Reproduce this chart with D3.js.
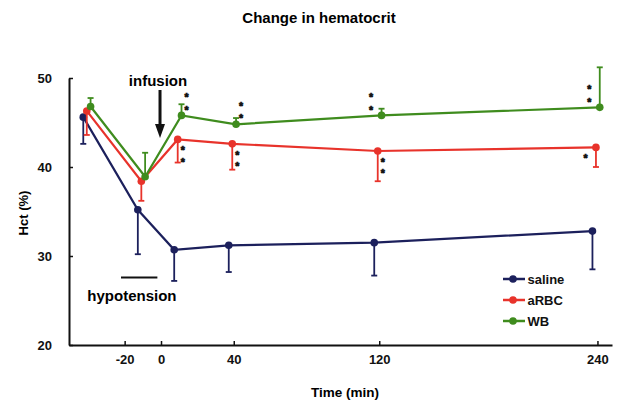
<!DOCTYPE html>
<html>
<head>
<meta charset="utf-8">
<script src="https://cdn.jsdelivr.net/npm/d3@7"></script>
<style>
  body { margin: 0; background: #fff; }
  svg { display: block; font-family: "Liberation Sans", Arial, sans-serif; font-weight: bold; }
</style>
</head>
<body>
<svg id="chart" width="625" height="402"></svg>
<script>
// ---- data ----
const times    = [-40, -10, 10, 40, 120, 240];
const saline   = [45.6, 35.2, 30.7, 31.2, 31.5, 32.8];
const salineSd = [3.0, 5.0, 3.5, 3.0, 3.7, 4.3];
const aRBC     = [46.3, 38.4, 43.1, 42.6, 41.8, 42.2];
const aRBCSd   = [2.7, 2.2, 2.6, 2.9, 3.4, 2.2];
const WB       = [46.8, 38.9, 45.8, 44.8, 45.8, 46.7];
const WBSd     = [0.95, 2.7, 1.25, 0.7, 0.75, 4.5];

const xTicks = [-20, 0, 40, 120, 240];
const yTicks = [20, 30, 40, 50];

const hypotensionSpan = [-22, -2];   // minutes
const infusionAt = 0;

// significance marks: series, point index, number of stars, side
const stars = [
  { s: 'WB',   i: 2, n: 2, side: 'right' },
  { s: 'WB',   i: 3, n: 2, side: 'right' },
  { s: 'WB',   i: 4, n: 2, side: 'left'  },
  { s: 'WB',   i: 5, n: 2, side: 'left'  },
  { s: 'aRBC', i: 2, n: 2, side: 'right' },
  { s: 'aRBC', i: 3, n: 2, side: 'right' },
  { s: 'aRBC', i: 4, n: 2, side: 'right' },
  { s: 'aRBC', i: 5, n: 1, side: 'left'  }
];

const series = [
  { name: 'saline', values: saline, sd: salineSd, dir:  1, color: '#1c205c', dodge: -5 },
  { name: 'aRBC',   values: aRBC,   sd: aRBCSd,   dir:  1, color: '#e8332b', dodge: -1.5 },
  { name: 'WB',     values: WB,     sd: WBSd,     dir: -1, color: '#3f8c1e', dodge: 2.3 }
];

// ---- layout ----
const svg = d3.select('#chart');
const FONT = '"Liberation Sans", Arial, sans-serif';

const x = d3.scaleLinear().domain([-50.6, 248]).range([69, 612]);
const y = d3.scaleLinear().domain([20, 50]).range([345, 78]);

// title
svg.append('text')
  .attr('x', 319).attr('y', 22.5)
  .attr('text-anchor', 'middle').attr('font-size', 15)
  .text('Change in hematocrit');

// axes
function styleAxis(g) {
  g.select('.domain').attr('stroke', '#111').attr('stroke-width', 2);
  g.selectAll('.tick line').attr('stroke', '#111').attr('stroke-width', 1.5);
  g.selectAll('text').attr('fill', '#111').attr('font-size', 13)
    .attr('font-family', FONT).attr('font-weight', 'bold');
}

svg.append('g')
  .attr('transform', `translate(0, ${y(20)})`)
  .call(d3.axisBottom(x).tickValues(xTicks).tickFormat(d => String(d))
    .tickSizeInner(-4).tickSizeOuter(0).tickPadding(10))
  .call(styleAxis);

svg.append('g')
  .attr('transform', `translate(69, 0)`)
  .call(d3.axisLeft(y).tickValues(yTicks).tickFormat(d => String(d))
    .tickSizeInner(-4).tickSizeOuter(0).tickPadding(17))
  .call(styleAxis);

// axis titles
svg.append('text')
  .attr('x', 345).attr('y', 397)
  .attr('text-anchor', 'middle').attr('font-size', 13.5)
  .text('Time (min)');

svg.append('text')
  .attr('transform', 'translate(27.5, 213) rotate(-90)')
  .attr('text-anchor', 'middle').attr('font-size', 13)
  .text('Hct (%)');

// ---- series ----
const line = d3.line();

series.forEach(s => {
  const pts = times.map((t, i) => [x(t) + s.dodge, y(s.values[i]), i]);
  const errEnd = d => y(s.values[d[2]] - s.dir * s.sd[d[2]]);
  const g = svg.append('g').attr('class', 'series-' + s.name);

  // error bars (one-sided)
  g.selectAll('line.err').data(pts).enter().append('line')
    .attr('class', 'err')
    .attr('x1', d => d[0]).attr('x2', d => d[0])
    .attr('y1', d => d[1]).attr('y2', errEnd)
    .attr('stroke', s.color).attr('stroke-width', 1.8);

  g.selectAll('line.cap').data(pts).enter().append('line')
    .attr('class', 'cap')
    .attr('x1', d => d[0] - 3).attr('x2', d => d[0] + 3)
    .attr('y1', errEnd).attr('y2', errEnd)
    .attr('stroke', s.color).attr('stroke-width', 1.8);

  g.append('path')
    .attr('d', line(pts.map(p => [p[0], p[1]])))
    .attr('fill', 'none').attr('stroke', s.color).attr('stroke-width', 2.2);

  g.selectAll('circle').data(pts).enter().append('circle')
    .attr('cx', d => d[0]).attr('cy', d => d[1]).attr('r', 3.8)
    .attr('fill', s.color);
});

// ---- significance stars ----
// smaller font + stroke keeps the stacked glyphs' boxes apart but the stars heavy
stars.forEach(st => {
  const s = series.find(d => d.name === st.s);
  const px = x(times[st.i]) + s.dodge + (st.side === 'right' ? 5 : -10.5);
  const py = y(s.values[st.i]);
  const step = s.dir < 0 ? 12.8 : 11.8;
  for (let k = 0; k < st.n; k++) {
    // WB stars stack upward from the point, aRBC stars downward
    const cy = s.dir < 0 ? py - 8 - k * step : py + 8.5 + k * step;
    svg.append('text')
      .attr('x', px).attr('y', cy + 6.2)
      .attr('text-anchor', 'middle').attr('font-size', 10.5)
      .attr('fill', '#111').attr('stroke', '#111').attr('stroke-width', 0.7)
      .text('*');
  }
});

// ---- annotations ----
svg.append('text')
  .attr('x', x(infusionAt) - 3).attr('y', 86)
  .attr('text-anchor', 'middle').attr('font-size', 15)
  .text('infusion');

const ax = x(infusionAt) - 1;
svg.append('line')
  .attr('x1', ax).attr('x2', ax).attr('y1', 90).attr('y2', 126)
  .attr('stroke', '#111').attr('stroke-width', 3);
svg.append('path')
  .attr('d', `M${ax - 5},124 L${ax + 5},124 L${ax},138 Z`)
  .attr('fill', '#111');

svg.append('line')
  .attr('x1', x(hypotensionSpan[0])).attr('x2', x(hypotensionSpan[1]))
  .attr('y1', 277.5).attr('y2', 277.5)
  .attr('stroke', '#111').attr('stroke-width', 2.2);

svg.append('text')
  .attr('x', x(-16)).attr('y', 301)
  .attr('text-anchor', 'middle').attr('font-size', 15)
  .text('hypotension');

// ---- legend ----
const legend = svg.append('g').attr('transform', 'translate(503, 279)');
series.forEach((s, i) => {
  const row = legend.append('g').attr('transform', `translate(0, ${i * 21})`);
  row.append('line').attr('x1', 0).attr('x2', 22).attr('y1', 0).attr('y2', 0)
    .attr('stroke', s.color).attr('stroke-width', 2.5);
  row.append('circle').attr('cx', 10).attr('cy', 0).attr('r', 3.8).attr('fill', s.color);
  row.append('text').attr('x', 24.5).attr('y', 4.8)
    .attr('font-size', 13).attr('fill', '#111')
    .text(s.name);
});
</script>
</body>
</html>
